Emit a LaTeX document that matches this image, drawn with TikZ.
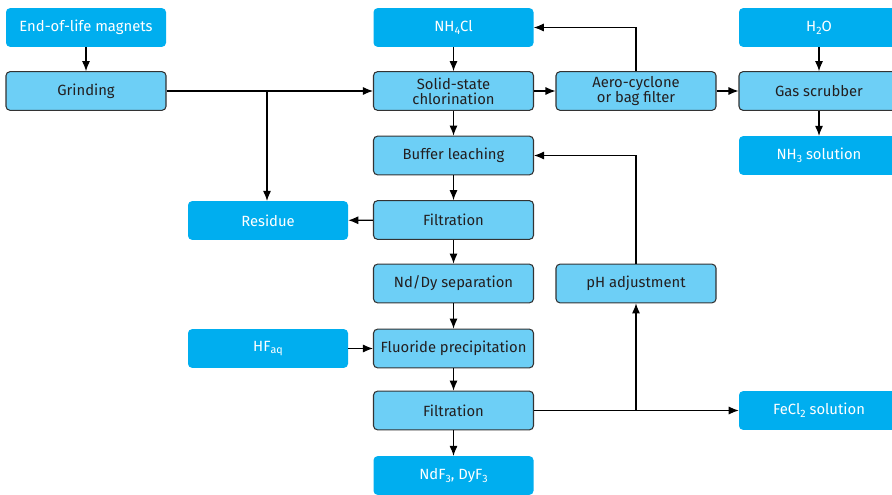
\documentclass[tikz,border=0pt]{standalone}
\usepackage{fontspec}
\setmainfont{Fira Sans}
\usepackage{xcolor}
\usepackage{tikz}
\usetikzlibrary{
    arrows.meta,
    positioning,
    calc
}
\definecolor{feedblue}{HTML}{00AEEF}
\definecolor{stepblue}{HTML}{6DCFF6}
\definecolor{stepline}{HTML}{333333}
\definecolor{steptext}{HTML}{231F20}
% chemical subscript
\newcommand{\chemsub}[1]{\raisebox{-0.35ex}{\fontsize{8}{8}\selectfont #1}}
\tikzset{
    % Feed / product box (no outline)
    feedbox/.style={
        rectangle,
        rounded corners=3pt,
        fill=feedblue,
        text=white,
        font=\fontsize{11.1}{12}\selectfont,
        minimum width=120pt,
        minimum height=29pt,
        align=center,
        inner sep=2pt
    },
    % Process step box
    stepbox/.style={
        rectangle,
        rounded corners=3pt,
        draw=stepline,
        line width=0.8pt,
        fill=stepblue,
        text=steptext,
        font=\fontsize{11.1}{11.5}\selectfont,
        minimum width=120pt,
        minimum height=29pt,
        align=center,
        inner sep=2pt
    },
    % Arrow style
    flowarrow/.style={
        -{Latex[length=7.5pt,width=6pt]},
        line width=0.8pt,
        color=black
    }
}

\begin{document}
\begin{tikzpicture}[x=0.75pt, y=-0.75pt]
    \useasboundingbox (0,0) rectangle (892,495);

    % Feeds and products
    \node[feedbox] (magnets) at (86,27.5)   {End-of-life magnets};
    \node[feedbox] (nhcl)    at (453.5,27.5) {NH\chemsub{4}Cl};
    \node[feedbox] (water)   at (819,27.5)  {H\chemsub{2}O};
    \node[feedbox] (ammonia) at (819,155.5) {NH\chemsub{3} solution};
    \node[feedbox] (residue) at (268,220.5) {Residue};
    \node[feedbox] (hfaq)    at (268,348.5) {HF\chemsub{aq}};
    \node[feedbox] (ferrous) at (819,410.5) {FeCl\chemsub{2} solution};
    \node[feedbox] (product) at (453.5,475.5) {NdF\chemsub{3}, DyF\chemsub{3}};

    % Process steps
    \node[stepbox] (grinding) at (86,91)     {Grinding};
    \node[stepbox] (chlor)    at (453.5,91)  {Solid-state\\chlorination};
    \node[stepbox] (cyclone)  at (636,91)    {Aero-cyclone\\or bag filter};
    \node[stepbox] (scrubber) at (819,91)    {Gas scrubber};
    \node[stepbox] (buffer)   at (453.5,155.5) {Buffer leaching};
    \node[stepbox] (filtA)    at (453.5,220) {Filtration};
    \node[stepbox] (sep)      at (453.5,283.5) {Nd/Dy separation};
    \node[stepbox] (phadj)    at (636,283.5) {pH adjustment};
    \node[stepbox] (fluoride) at (453.5,348.5) {Fluoride precipitation};
    \node[stepbox] (filtB)    at (453.5,410.5) {Filtration};

    % Branch points
    \coordinate (split) at (267,91);
    \coordinate (tap)   at (636,410.5);

    % Main column
    \draw[flowarrow] (magnets) -- (grinding);
    \draw[flowarrow] (grinding) -- (chlor);
    \draw[flowarrow] (split) -- (split |- residue.north);
    \draw[flowarrow] (nhcl) -- (chlor);
    \draw[flowarrow] (chlor) -- (buffer);
    \draw[flowarrow] (buffer) -- (filtA);
    \draw[flowarrow] (filtA) -- (residue);
    \draw[flowarrow] (filtA) -- (sep);
    \draw[flowarrow] (sep) -- (fluoride);
    \draw[flowarrow] (hfaq) -- (fluoride);
    \draw[flowarrow] (fluoride) -- (filtB);
    \draw[flowarrow] (filtB) -- (product);

    % Off-gas line
    \draw[flowarrow] (chlor) -- (cyclone);
    \draw[flowarrow] (cyclone) -- (scrubber);
    \draw[flowarrow] (cyclone.north) |- (nhcl.east);
    \draw[flowarrow] (water) -- (scrubber);
    \draw[flowarrow] (scrubber) -- (ammonia);

    % Filtrate recycle
    \draw[flowarrow] (filtB) -- (ferrous);
    \draw[flowarrow] (tap) -- (phadj.south);
    \draw[flowarrow] (phadj.north) |- (buffer.east);

\end{tikzpicture}
\end{document}
